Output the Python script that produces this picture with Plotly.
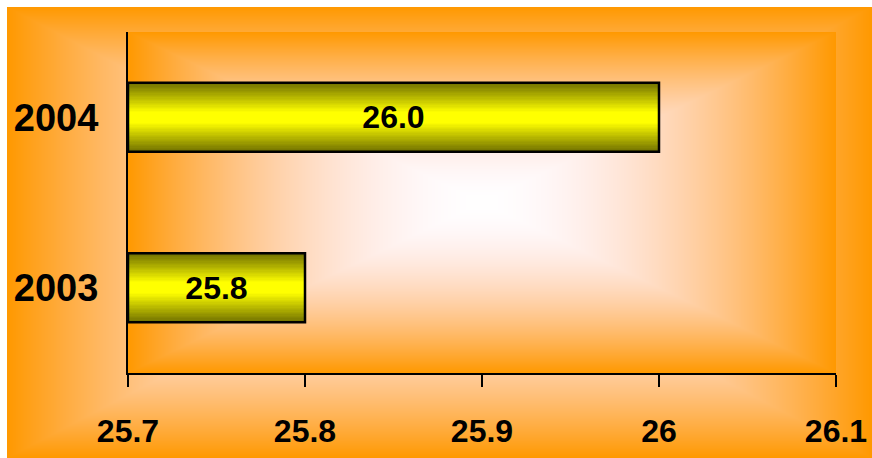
import base64
import struct
import zlib

import numpy as np
import plotly.graph_objects as go

# ---------------- data ----------------
years = ["2003", "2004"]
values = [25.8, 26.0]
value_labels = ["25.8", "26.0"]
x_min, x_max = 25.7, 26.1
x_tickvals = [25.7, 25.8, 25.9, 26.0, 26.1]
x_ticktext = ["25.7", "25.8", "25.9", "26", "26.1"]

# ---------------- helpers ----------------
FIG_W, FIG_H = 872, 458
L, R, T, B = 128, 836, 32, 373  # plot area in px
PW, PH = R - L, B - T


def png_uri(arr):
    h, w, _ = arr.shape
    raw = b"".join(b"\x00" + arr[i].tobytes() for i in range(h))

    def chunk(tag, data):
        c = struct.pack(">I", len(data)) + tag + data
        return c + struct.pack(">I", zlib.crc32(tag + data) & 0xFFFFFFFF)

    png = (b"\x89PNG\r\n\x1a\n"
           + chunk(b"IHDR", struct.pack(">IIBBBBB", w, h, 8, 2, 0, 0, 0))
           + chunk(b"IDAT", zlib.compress(raw, 9))
           + chunk(b"IEND", b""))
    return "data:image/png;base64," + base64.b64encode(png).decode()


def rect_gradient(w, h):
    xs = (np.arange(w) + 0.5) / w
    ys = (np.arange(h) + 0.5) / h
    dx = np.abs(xs - 0.5) / 0.5
    dy = np.abs(ys - 0.5) / 0.5
    t = np.maximum(dx[None, :], dy[:, None])
    f = t ** 1.5
    g = t ** 2.0
    arr = np.zeros((h, w, 3), dtype=np.uint8)
    arr[..., 0] = 255
    arr[..., 1] = np.clip(255 - 102 * f, 0, 255).astype(np.uint8)
    arr[..., 2] = np.clip(255 - 255 * g, 0, 255).astype(np.uint8)
    return arr


outer_x0, outer_y0, outer_x1, outer_y1 = 7, 7, 872, 458
outer_img = png_uri(rect_gradient(outer_x1 - outer_x0, outer_y1 - outer_y0))
inner_img = png_uri(rect_gradient(PW, PH))

fig = go.Figure()

# gradient bars: nested bars of decreasing width
BAR_W = 0.405
N = 26
olive = np.array([112, 112, 0])
yellow = np.array([255, 255, 0])
for i in range(N):
    frac = 1 - i / N
    d = 1 - (i + 0.5) / N
    s = min(1.0, max(0.0, (1 - d) / 0.85))
    c = olive + (yellow - olive) * s
    fig.add_trace(go.Bar(
        y=years, x=[v - x_min for v in values], base=x_min,
        orientation="h", width=BAR_W * frac,
        marker=dict(color=f"rgb({int(c[0])},{int(c[1])},{int(c[2])})", line=dict(width=0)),
        hoverinfo="skip", showlegend=False,
    ))

# outline + labels
fig.add_trace(go.Bar(
    y=years, x=[v - x_min for v in values], base=x_min,
    orientation="h", width=BAR_W,
    marker=dict(color="rgba(0,0,0,0)", line=dict(color="black", width=2.5)),
    text=value_labels, textposition="inside", insidetextanchor="middle",
    textangle=0,
    textfont=dict(family="Arial, Liberation Sans, sans-serif", size=32, color="black", weight="bold"),
    hoverinfo="skip", showlegend=False,
))

fig.update_layout(
    width=FIG_W, height=FIG_H,
    margin=dict(l=L, r=FIG_W - R, t=T, b=FIG_H - B, pad=0, autoexpand=False),
    paper_bgcolor="white",
    plot_bgcolor="rgba(0,0,0,0)",
    barmode="overlay",
    bargap=0,
    showlegend=False,
    images=[
        dict(source=outer_img, xref="paper", yref="paper",
             x=(outer_x0 - L) / PW, y=(B - outer_y0) / PH,
             sizex=(outer_x1 - outer_x0) / PW, sizey=(outer_y1 - outer_y0) / PH,
             xanchor="left", yanchor="top", sizing="stretch", layer="below"),
        dict(source=inner_img, xref="paper", yref="paper",
             x=0, y=1, sizex=1, sizey=1,
             xanchor="left", yanchor="top", sizing="stretch", layer="below"),
    ],
)

fig.update_xaxes(
    range=[x_min, x_max], tickvals=x_tickvals, ticktext=x_ticktext,
    showgrid=False, zeroline=False, automargin=False,
    showline=True, linecolor="black", linewidth=2,
    ticks="outside", ticklen=12, tickwidth=2, tickcolor="black",
    ticklabelstandoff=17,
    tickfont=dict(family="Arial, Liberation Sans, sans-serif", size=32, color="black", weight="bold"),
)
fig.update_yaxes(
    type="category", categoryorder="array", categoryarray=years,
    range=[-0.5, 1.5], automargin=False,
    showgrid=False, zeroline=False,
    showline=True, linecolor="black", linewidth=2,
    ticks="", ticklabelstandoff=20,
    tickfont=dict(family="Arial, Liberation Sans, sans-serif", size=38, color="black", weight="bold"),
)

fig.write_html(
    "out.html",
    config={"displayModeBar": False, "staticPlot": True},
    post_script="document.body.style.margin='0';document.body.style.overflow='hidden';",
)
